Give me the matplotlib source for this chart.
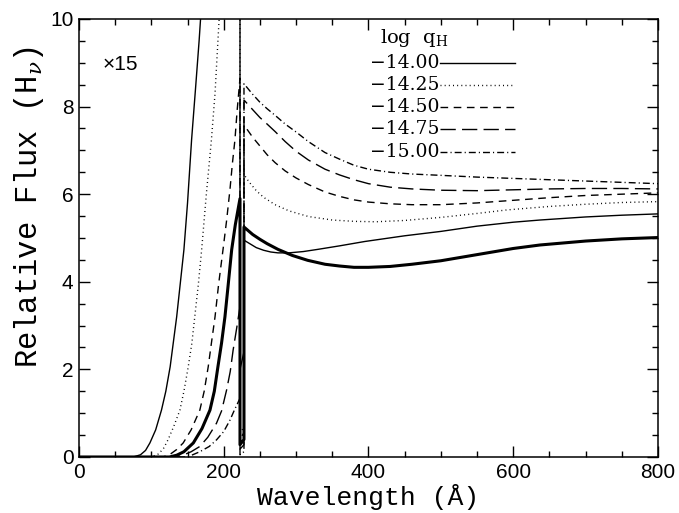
import matplotlib

matplotlib.use("Agg")
import matplotlib.pyplot as plt
from matplotlib.ticker import MultipleLocator

plt.rcParams["mathtext.fontset"] = "dejavuserif"

# wavelengths of the two jumps (A)
LAM_DROP = 222.5
LAM_EDGE = 228.0

LABELS = ["\u221214.00", "\u221214.25", "\u221214.50", "\u221214.75", "\u221215.00"]

# log qH = -14.00 (thin solid)
q140_lam_pre = [0, 60, 75, 85, 92, 98, 106, 114, 120, 126, 135, 145, 150, 155.6, 161, 166, 172, 180, 195, 210, 222.5]
q140_v_pre = [0, 0, 0, 0.05, 0.15, 0.32, 0.62, 1.07, 1.5, 2.06, 3.2, 4.73, 5.8, 7.24, 8.4, 9.5, 11, 13, 17, 21, 25]
q140_gap = [2.0, 2.4]
q140_lam_post = [228, 235, 245, 255, 265, 275, 290, 310, 330, 360, 395, 450, 500, 550, 600, 637, 700, 750, 800]
q140_v_post = [4.95, 4.88, 4.78, 4.72, 4.68, 4.66, 4.66, 4.69, 4.74, 4.82, 4.92, 5.05, 5.15, 5.27, 5.36, 5.41, 5.48, 5.52, 5.55]

# log qH = -14.25 (dotted)
q1425_lam_pre = [0, 100, 110, 117, 123, 131, 139.5, 145, 151, 156, 160, 165, 169.5, 176, 183, 188, 192, 197, 205, 215, 222.5]
q1425_v_pre = [0, 0, 0.07, 0.2, 0.39, 0.7, 1.07, 1.5, 2.06, 2.6, 3.2, 3.95, 4.73, 6.0, 7.24, 8.3, 9.5, 11, 13, 15.5, 17.5]
q1425_gap = [0.55, 0.68]
q1425_lam_post = [228, 235, 245, 255, 271, 290, 317, 350, 380, 410, 450, 500, 550, 591, 650, 700, 750, 800]
q1425_v_post = [6.45, 6.28, 6.08, 5.93, 5.76, 5.62, 5.49, 5.41, 5.38, 5.37, 5.4, 5.47, 5.56, 5.64, 5.72, 5.77, 5.81, 5.83]

# log qH = -14.50 (short dash)
q145_lam_pre = [0, 116, 125, 135, 144, 155, 167, 173, 178.6, 183, 188, 193, 199, 204, 208.6, 212, 215.5, 218.5, 222.5]
q145_v_pre = [0, 0, 0.05, 0.17, 0.32, 0.62, 1.07, 1.5, 2.06, 2.6, 3.2, 3.95, 4.73, 5.4, 6.1, 6.7, 7.24, 7.9, 8.65]
q145_gap = [0.42, 0.55]
q145_lam_post = [228, 240, 250, 260, 271, 285, 300, 317, 340, 360, 380, 400, 430, 460, 500, 550, 600, 650, 700, 750, 800]
q145_v_post = [7.58, 7.3, 7.1, 6.9, 6.72, 6.53, 6.37, 6.22, 6.05, 5.95, 5.87, 5.82, 5.78, 5.76, 5.76, 5.8, 5.86, 5.92, 5.97, 6.0, 6.03]

# log qH = -14.75 (long dash)
q1475_lam_pre = [0, 135, 145, 155, 167, 178, 190, 197, 204, 209, 213, 218, 222.5]
q1475_v_pre = [0, 0, 0.05, 0.12, 0.24, 0.45, 0.77, 1.05, 1.53, 1.95, 2.44, 2.95, 3.43]
q1475_gap = [0.18, 0.28]
q1475_lam_post = [228, 240, 250, 260, 271, 285, 300, 317, 340, 360, 380, 400, 430, 460, 500, 550, 600, 650, 700, 750, 800]
q1475_v_post = [8.15, 7.93, 7.75, 7.6, 7.43, 7.2, 6.98, 6.78, 6.57, 6.44, 6.33, 6.24, 6.16, 6.12, 6.09, 6.08, 6.1, 6.12, 6.13, 6.13, 6.12]

# log qH = -15.00 (dash-dot)
q150_lam_pre = [0, 150, 167, 180, 190, 200, 208.6, 215, 222.5]
q150_v_pre = [0, 0, 0.12, 0.24, 0.39, 0.58, 0.84, 1.08, 1.34]
q150_gap = [0.05, 0.12]
q150_lam_post = [228, 240, 250, 260, 271, 285, 300, 317, 340, 360, 380, 400, 430, 460, 500, 550, 600, 650, 700, 750, 800]
q150_v_post = [8.52, 8.28, 8.1, 7.95, 7.8, 7.6, 7.42, 7.2, 6.95, 6.8, 6.66, 6.57, 6.5, 6.46, 6.43, 6.39, 6.36, 6.33, 6.3, 6.27, 6.24]

# thick reference curve
ref_lam_pre = [0, 125, 135, 145, 158, 170, 181, 187, 192, 197, 201.7, 206, 211, 216, 222.5]
ref_v_pre = [0, 0, 0.04, 0.12, 0.32, 0.65, 1.07, 1.5, 2.06, 2.6, 3.2, 3.9, 4.73, 5.3, 5.9]
ref_gap = [0.28, 0.4]
ref_lam_post = [228, 240, 250, 260, 275, 295, 316, 340, 360, 380, 400, 430, 460, 500, 550, 600, 637, 700, 750, 800]
ref_v_post = [5.25, 5.08, 4.97, 4.87, 4.74, 4.6, 4.49, 4.4, 4.36, 4.33, 4.33, 4.35, 4.4, 4.48, 4.62, 4.76, 4.84, 4.93, 4.98, 5.01]


def join(lam_pre, v_pre, gap, lam_post, v_post):
    lam = list(lam_pre) + [LAM_DROP, LAM_EDGE] + list(lam_post)
    v = list(v_pre) + list(gap) + list(v_post)
    return lam, v


series = [
    (join(q140_lam_pre, q140_v_pre, q140_gap, q140_lam_post, q140_v_post), "-"),
    (join(q1425_lam_pre, q1425_v_pre, q1425_gap, q1425_lam_post, q1425_v_post), (0, (0.7, 2.3))),
    (join(q145_lam_pre, q145_v_pre, q145_gap, q145_lam_post, q145_v_post), (0, (5.5, 4.0))),
    (join(q1475_lam_pre, q1475_v_pre, q1475_gap, q1475_lam_post, q1475_v_post), (0, (11, 4.5))),
    (join(q150_lam_pre, q150_v_pre, q150_gap, q150_lam_post, q150_v_post), (0, (5, 2.2, 0.8, 2.2))),
]

fig = plt.figure(figsize=(6.79, 5.13), dpi=100)
ax = fig.add_axes([0.1163, 0.1092, 0.8527, 0.8538])

for (lam, v), ls in series:
    ax.plot(lam, v, color="black", linewidth=1.0, linestyle=ls)

ref_lam, ref_v = join(ref_lam_pre, ref_v_pre, ref_gap, ref_lam_post, ref_v_post)
ax.plot(ref_lam, ref_v, color="black", linewidth=2.2)

ax.set_xlim(0, 800)
ax.set_ylim(0, 10)

ax.xaxis.set_major_locator(MultipleLocator(200))
ax.xaxis.set_minor_locator(MultipleLocator(50))
ax.yaxis.set_major_locator(MultipleLocator(2))
ax.yaxis.set_minor_locator(MultipleLocator(0.5))
ax.tick_params(which="both", direction="in", top=True, right=True, width=1.0)
ax.tick_params(which="major", length=8, labelsize=15, pad=4)
ax.tick_params(which="minor", length=4.5)
for label in ax.get_xticklabels() + ax.get_yticklabels():
    label.set_family("Liberation Sans")
for spine in ax.spines.values():
    spine.set_linewidth(1.1)

ax.set_xlabel("Wavelength (\u00c5)", family="Liberation Mono", fontsize=19, labelpad=2)
ax.set_ylabel(r"Relative Flux (H$_\nu$)", family="Liberation Mono", fontsize=22)
ax.yaxis.set_label_coords(-0.057, 0.57)

ax.text(0.04, 0.895, "\u00d715", transform=ax.transAxes, fontsize=15,
        family="Liberation Sans", ha="left", va="center")

# legend drawn by hand
ax.text(0.52, 0.957, r"log  q$_\mathrm{H}$", transform=ax.transAxes,
        fontsize=14, family="DejaVu Serif", ha="left", va="center")
row_y = [0.8995, 0.849, 0.799, 0.749, 0.696]
for ((lam, v), ls), label, y in zip(series, LABELS, row_y):
    ax.text(0.622, y, label, transform=ax.transAxes, fontsize=13.5,
            family="DejaVu Serif", ha="right", va="center")
    ax.plot([0.6235, 0.753], [y, y], transform=ax.transAxes, color="black",
            linewidth=1.0, linestyle=ls)

fig.savefig("out.png", dpi=100)
